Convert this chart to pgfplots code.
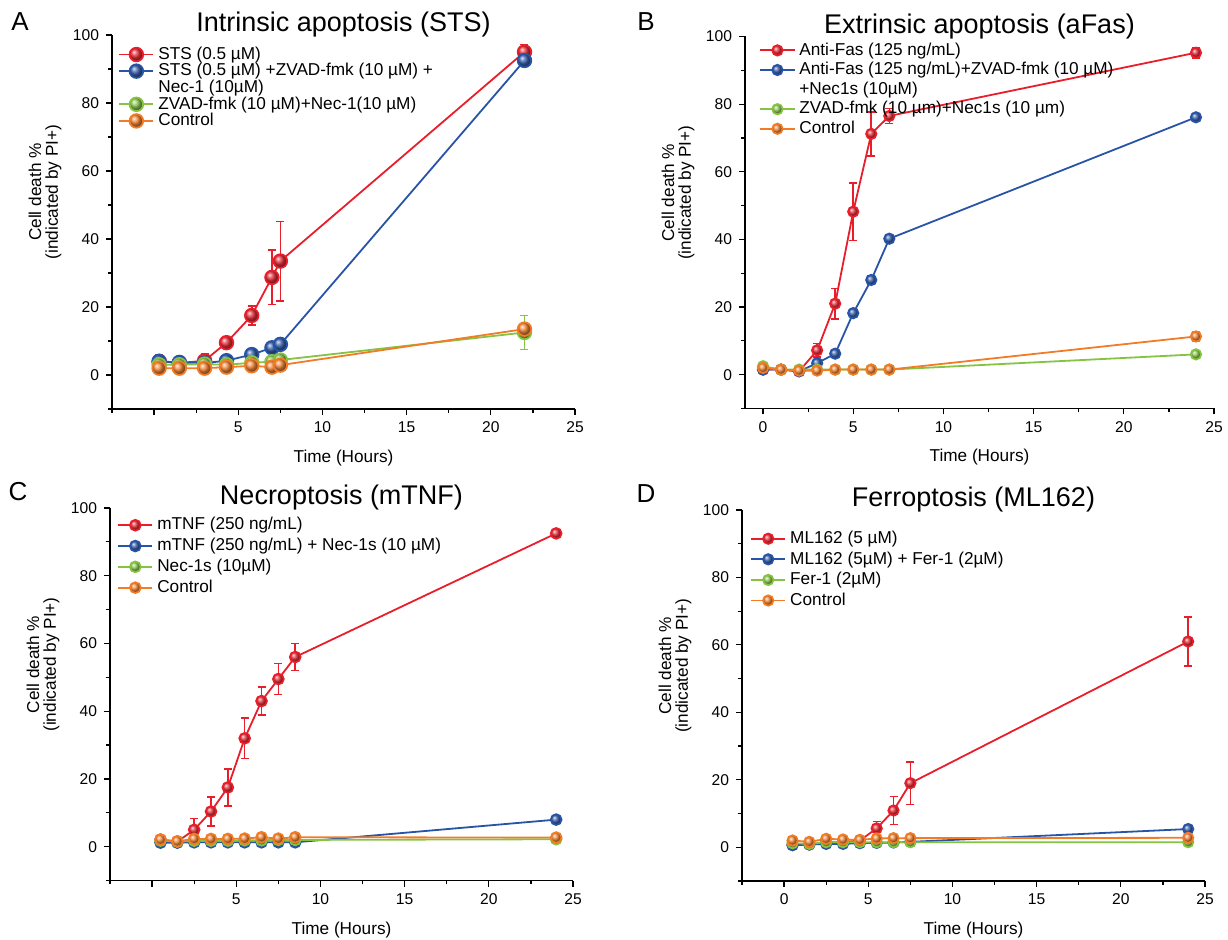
\documentclass[border=0pt]{standalone}
\usepackage{pgfplots}
\pgfplotsset{compat=1.18}
\usepackage{fontspec}
\setmainfont{Liberation Sans}
\definecolor{cred}{RGB}{232,30,42}
\definecolor{cblue}{RGB}{40,84,168}
\definecolor{cgreen}{RGB}{132,196,66}
\definecolor{corange}{RGB}{242,124,38}
\pgfplotsset{
  ser/.style={color=#1, line width=0.9pt, mark=ball, mark options={ball color=#1!92!white},
    /pgfplots/error bars/y dir=both, /pgfplots/error bars/y explicit,
    /pgfplots/error bars/error bar style={line width=0.8pt, #1},
    /pgfplots/error bars/error mark options={rotate=90, mark size=2pt, line width=0.8pt, #1}},
  panel/.style={
    scale only axis, clip=false,
    axis x line*=bottom, axis y line*=left,
    axis line style={-, line width=0.7pt},
    xmin=-2.5, xmax=25, ymin=-10, ymax=100,
    xtick={0,5,...,25}, ytick={0,20,...,100},
    minor xtick={-2.5,2.5,7.5,12.5,17.5,22.5}, minor ytick={-10,10,30,50,70,90},
    tick align=outside, major tick length=3pt, minor tick length=1.8pt,
    tick style={black, line width=0.6pt},
    tick label style={font=\fontsize{7.8}{9}\selectfont},
    /pgf/number format/assume math mode=true,
    xlabel={Time (Hours)}, ylabel={Cell death \%\\(indicated by PI+)},
    every axis x label/.style={at={(rel axis cs:0.5,0)}, yshift=-24.5pt, anchor=center, font=\fontsize{8.6}{9}\selectfont},
    every axis y label/.style={at={(rel axis cs:0,0.58)}, xshift=-33.5pt, rotate=90, anchor=center, align=center, font=\fontsize{8.6}{8.4}\selectfont},
    every axis title/.style={at={(rel axis cs:0.5,1)}, anchor=center, yshift=5pt, font=\fontsize{13.5}{15}\selectfont},
    legend cell align=left,
    legend style={draw=none, fill=none, anchor=north west, inner sep=0pt,
      font=\fontsize{8.6}{9}\selectfont, column sep=2pt,
      nodes={inner sep=0pt, text height=6.5pt, text depth=1.8pt}},
  }
}
\begin{document}
\begin{tikzpicture}
\useasboundingbox (0,0) rectangle (614pt,470pt);
\node[font=\fontsize{13}{14}\selectfont] at (10pt,459pt) {A};
\node[font=\fontsize{13}{14}\selectfont] at (323pt,459pt) {B};
\node[font=\fontsize{13}{14}\selectfont] at (9pt,224pt) {C};
\node[font=\fontsize{13}{14}\selectfont] at (323pt,223pt) {D};

% Panel A
\begin{axis}[panel, at={(56pt,265.5pt)}, anchor=south west, width=231.5pt, height=187pt,
  xticklabels={,5,10,15,20,25},
  title={Intrinsic apoptosis (STS)},
  every axis plot/.append style={mark size=3.4pt},
  legend style={at={(rel axis cs:0.013,0.971)}, row sep=0pt}]
\addplot[ser=cred] table[x=x,y=y,y error=e]{
x y e
0.3 4.0 2
1.5 3.5 1
3 4.2 2
4.3 9.5 1.5
5.8 17.5 2.8
7 28.7 8
7.5 33.5 11.7
22 95 2.2
};
\addlegendentry{STS (0.5 µM)}
\addplot[ser=cblue] table[x=x,y=y,y error=e]{
x y e
0.3 4.0 1
1.5 3.7 0.8
3 3.5 0.5
4.3 4.2 0.5
5.8 6.0 0.7
7 8.0 1
7.5 9.0 0.8
22 92.5 1
};
\addlegendentry{STS (0.5 µM) +ZVAD-fmk (10 µM) +}
\addlegendimage{empty legend}
\addlegendentry{Nec-1 (10µM)}
\addplot[ser=cgreen] table[x=x,y=y,y error=e]{
x y e
0.3 3.0 0.5
1.5 3.0 0.5
3 3.2 0.5
4.3 3.0 0.5
5.8 3.6 0.5
7 3.9 0.5
7.5 4.4 0.5
22 12.5 5
};
\addlegendentry{ZVAD-fmk (10 µM)+Nec-1(10 µM)}
\addplot[ser=corange] table[x=x,y=y,y error=e]{
x y e
0.3 2.0 0.5
1.5 2.0 0.5
3 2.0 0.5
4.3 2.3 0.5
5.8 2.7 0.5
7 2.3 0.5
7.5 2.9 0.5
22 13.5 1
};
\addlegendentry{Control}
\end{axis}

% Panel B
\begin{axis}[panel, at={(372.5pt,265.75pt)}, anchor=south west, width=234.5pt, height=186pt,
  xmin=-1, xmax=25,
  title={Extrinsic apoptosis (aFas)},
  every axis plot/.append style={mark size=2.6pt},
  legend style={at={(rel axis cs:0.03,0.986)}, row sep=1.5pt}]
\addplot[ser=cred] table[x=x,y=y,y error=e]{
x y e
0 1.5 0.5
1 1.5 0.3
2 1.0 0.3
3 7.2 2
4 21 4.5
5 48.2 8.5
6 71.2 6.5
7 76.5 2.2
24 95.2 1.5
};
\addlegendentry{Anti-Fas (125 ng/mL)}
\addplot[ser=cblue] table[x=x,y=y,y error=e]{
x y e
0 1.5 0.3
1 1.5 0.3
2 1.0 0.3
3 3.4 0.5
4 6.2 0.5
5 18.2 0.8
6 28 1.2
7 40.2 1
24 76.1 1
};
\addlegendentry{Anti-Fas (125 ng/mL)+ZVAD-fmk (10 µM)}
\addlegendimage{empty legend}
\addlegendentry{+Nec1s (10µM)}
\addplot[ser=cgreen] table[x=x,y=y,y error=e]{
x y e
0 2.5 0.5
1 1.5 0.3
2 1.5 0.3
3 1.5 0.3
4 1.5 0.3
5 1.5 0.3
6 1.5 0.3
7 1.5 0.3
24 6.0 0.5
};
\addlegendentry{ZVAD-fmk (10 µm)+Nec1s (10 µm)}
\addplot[ser=corange] table[x=x,y=y,y error=e]{
x y e
0 2.0 0.8
1 1.5 0.3
2 1.2 0.3
3 1.2 0.3
4 1.5 0.3
5 1.5 0.3
6 1.5 0.3
7 1.5 0.3
24 11.3 1.5
};
\addlegendentry{Control}
\end{axis}

% Panel C
\begin{axis}[panel, at={(55pt,29.7pt)}, anchor=south west, width=231.5pt, height=186.3pt,
  xticklabels={,5,10,15,20,25},
  title={Necroptosis (mTNF)},
  every axis plot/.append style={mark size=2.7pt},
  legend style={at={(rel axis cs:0.015,0.977)}, row sep=2.1pt}]
\addplot[ser=cred] table[x=x,y=y,y error=e]{
x y e
0.5 2.1 0.5
1.5 1.5 0.3
2.5 5.0 3.3
3.5 10.4 4.3
4.5 17.5 5.5
5.5 32 6
6.5 43 4.2
7.5 49.5 4.6
8.5 56 4
24 92.5 1
};
\addlegendentry{mTNF (250 ng/mL)}
\addplot[ser=cblue] table[x=x,y=y,y error=e]{
x y e
0.5 1.2 0.3
1.5 1.2 0.3
2.5 1.3 0.3
3.5 1.3 0.3
4.5 1.3 0.3
5.5 1.3 0.3
6.5 1.3 0.3
7.5 1.3 0.3
8.5 1.3 0.3
24 8.0 0.8
};
\addlegendentry{mTNF (250 ng/mL) + Nec-1s (10 µM)}
\addplot[ser=cgreen] table[x=x,y=y,y error=e]{
x y e
0.5 1.8 0.3
1.5 1.5 0.3
2.5 1.8 0.3
3.5 1.8 0.3
4.5 1.8 0.3
5.5 1.9 0.3
6.5 1.9 0.3
7.5 2.0 0.3
8.5 2.0 0.3
24 2.2 0.3
};
\addlegendentry{Nec-1s (10µM)}
\addplot[ser=corange] table[x=x,y=y,y error=e]{
x y e
0.5 2.1 0.5
1.5 1.6 0.5
2.5 2.3 0.5
3.5 2.3 0.5
4.5 2.3 0.5
5.5 2.4 0.5
6.5 2.8 0.5
7.5 2.4 0.5
8.5 2.8 0.5
24 2.7 0.5
};
\addlegendentry{Control}
\end{axis}

% Panel D
\begin{axis}[panel, at={(371pt,29.5pt)}, anchor=south west, width=231.5pt, height=185.5pt,
  title={Ferroptosis (ML162)},
  every axis plot/.append style={mark size=2.6pt},
  legend style={at={(rel axis cs:0.017,0.946)}, row sep=2pt}]
\addplot[ser=cred] table[x=x,y=y,y error=e]{
x y e
0.5 0.7 0.5
1.5 0.8 0.3
2.5 1.5 0.3
3.5 1.5 0.3
4.5 2.0 0.3
5.5 5.6 2
6.5 10.9 4.2
7.5 19 6.3
24 61 7.2
};
\addlegendentry{ML162 (5 µM)}
\addplot[ser=cblue] table[x=x,y=y,y error=e]{
x y e
0.5 0.6 0.3
1.5 0.8 0.3
2.5 1.0 0.3
3.5 1.0 0.3
4.5 1.2 0.3
5.5 1.3 0.3
6.5 1.4 0.3
7.5 1.6 0.3
24 5.4 0.8
};
\addlegendentry{ML162 (5µM) + Fer-1 (2µM)}
\addplot[ser=cgreen] table[x=x,y=y,y error=e]{
x y e
0.5 1.2 0.3
1.5 1.0 0.3
2.5 1.5 0.3
3.5 1.5 0.3
4.5 1.5 0.3
5.5 1.5 0.3
6.5 1.5 0.3
7.5 1.5 0.3
24 1.5 0.3
};
\addlegendentry{Fer-1 (2µM)}
\addplot[ser=corange] table[x=x,y=y,y error=e]{
x y e
0.5 2.0 0.5
1.5 1.6 0.5
2.5 2.5 0.5
3.5 2.3 0.5
4.5 2.2 0.5
5.5 2.6 0.5
6.5 2.7 0.5
7.5 2.7 0.5
24 2.8 0.5
};
\addlegendentry{Control}
\end{axis}
\end{tikzpicture}
\end{document}
